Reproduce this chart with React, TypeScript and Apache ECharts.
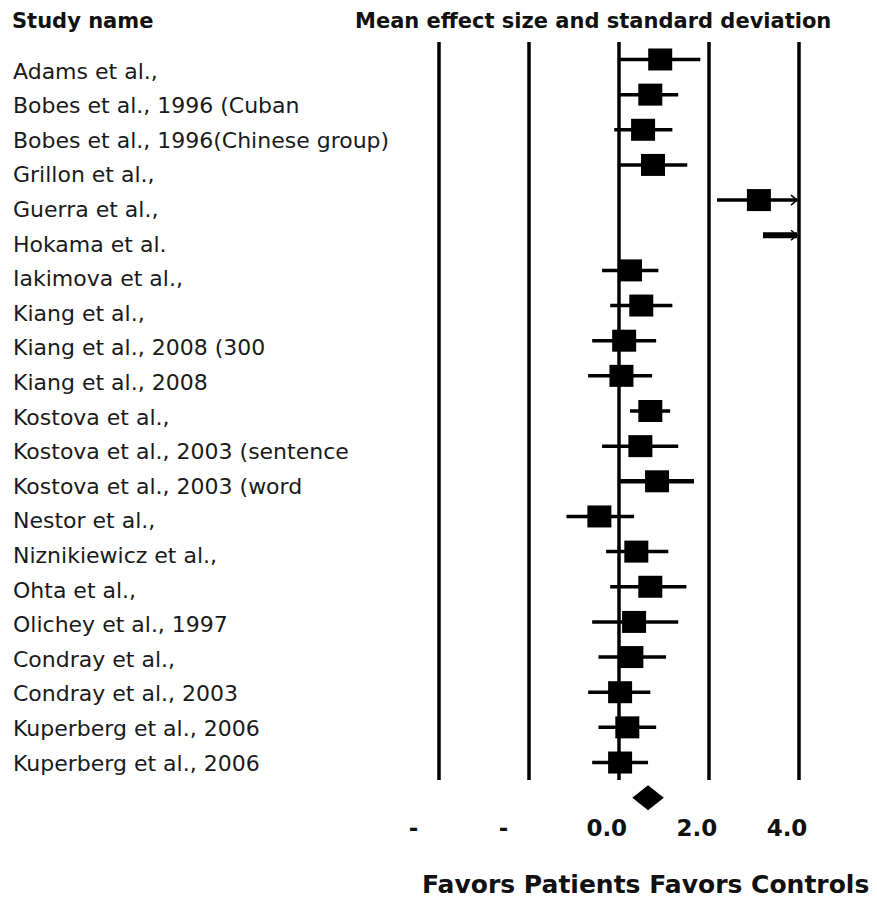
import React, { useEffect, useRef } from "react";
import * as echarts from "echarts";

const studies = [
  "Adams et al.,",
  "Bobes et al., 1996 (Cuban",
  "Bobes et al., 1996(Chinese group)",
  "Grillon et al.,",
  "Guerra et al.,",
  "Hokama et al.",
  "Iakimova et al.,",
  "Kiang et al.,",
  "Kiang et al., 2008 (300",
  "Kiang et al., 2008",
  "Kostova et al.,",
  "Kostova et al., 2003 (sentence",
  "Kostova et al., 2003 (word",
  "Nestor et al.,",
  "Niznikiewicz et al.,",
  "Ohta et al.,",
  "Olichey et al., 1997",
  "Condray et al.,",
  "Condray et al., 2003",
  "Kuperberg et al., 2006",
  "Kuperberg et al., 2006",
];

const effect = [0.92, 0.7, 0.54, 0.76, 3.11, 4.6, 0.25, 0.5, 0.12, 0.06, 0.7, 0.48, 0.85, -0.43, 0.39, 0.7, 0.34, 0.28, 0.03, 0.19, 0.03];
const lower = [0.02, 0.02, -0.1, 0.02, 2.18, 3.2, -0.37, -0.19, -0.59, -0.68, 0.25, -0.37, 0.02, -1.16, -0.28, -0.19, -0.59, -0.45, -0.68, -0.45, -0.59];
const upper = [1.81, 1.32, 1.19, 1.52, 4.6, 6.0, 0.88, 1.19, 0.83, 0.74, 1.14, 1.32, 1.67, 0.34, 1.1, 1.5, 1.32, 1.05, 0.7, 0.83, 0.65];

const summaryEffect = 0.65;
const summaryLower = 0.3;
const summaryUpper = 1.0;

const xMin = -4;
const xMax = 4;
const xInterval = 2;

const headerLeft = "Study name";
const headerRight = "Mean effect size and standard deviation";
const footer = "Favors Patients Favors Controls";

export default function App() {
  const ref = useRef<HTMLDivElement>(null);

  useEffect(() => {
    const chart = echarts.init(ref.current!, null, { renderer: "svg" });
    const font = "DejaVu Sans";

    const studyData = studies.map((_, i) => [i, effect[i], lower[i], upper[i]]);

    const option: any = {
      animation: false,
      backgroundColor: "#fff",
      title: [
        {
          text: headerLeft,
          left: 12,
          top: 10,
          padding: 0,
          textStyle: { fontFamily: font, fontWeight: "bold", fontSize: 21, color: "#111" },
        },
        {
          text: headerRight,
          left: 355,
          top: 10,
          padding: 0,
          textStyle: { fontFamily: font, fontWeight: "bold", fontSize: 21, color: "#111" },
        },
        {
          text: footer,
          left: 422,
          top: 872,
          padding: 0,
          textStyle: { fontFamily: font, fontWeight: "bold", fontSize: 25, color: "#111" },
        },
      ],
      grid: [
        { left: 438.5, right: 78, top: 41.9, height: 738.2, containLabel: false },
        { left: 5, width: 10, top: 53.7, height: 726.6, containLabel: false },
      ],
      xAxis: [
        {
          type: "value",
          gridIndex: 0,
          min: xMin,
          max: xMax,
          interval: xInterval,
          axisLine: { show: false },
          axisTick: { show: false },
          splitLine: { show: true, lineStyle: { color: "#000", width: 3.5 } },
          axisLabel: {
            show: true,
            margin: 36,
            showMinLabel: true,
            showMaxLabel: true,
            formatter: (v: number) => (v < 0 ? "{d|-}" : `{n|${v.toFixed(1)}}`),
            rich: {
              d: { fontFamily: font, fontWeight: "bold", fontSize: 23, color: "#111", padding: [0, 50, 0, 0] },
              n: { fontFamily: font, fontWeight: "bold", fontSize: 23, color: "#111", padding: [0, 24, 0, 0] },
            },
          },
        },
        { type: "value", gridIndex: 1, show: false, min: 0, max: 1 },
      ],
      yAxis: [
        {
          type: "value",
          gridIndex: 0,
          inverse: true,
          min: -0.5,
          max: 20.5,
          show: false,
        },
        {
          type: "category",
          gridIndex: 1,
          inverse: true,
          data: studies,
          axisLine: { show: false },
          axisTick: { show: false },
          splitLine: { show: false },
          axisLabel: {
            inside: true,
            margin: 8,
            align: "left",
            interval: 0,
            fontFamily: font,
            fontSize: 22,
            color: "#1a1a1a",
          },
        },
      ],
      series: [
        {
          type: "custom",
          xAxisIndex: 0,
          yAxisIndex: 0,
          clip: false,
          encode: { x: [1, 2, 3], y: 0 },
          data: studyData,
          renderItem: (params: any, api: any) => {
            const i = api.value(0);
            const est = api.value(1);
            const lo = api.value(2);
            const hi = api.value(3);
            const leftP = api.coord([Math.max(lo, xMin), i]);
            const rightP = api.coord([Math.min(hi, xMax), i]);
            const over = hi > xMax;
            const lw = params.dataIndex === 5 ? 6 : params.dataIndex === 12 ? 4.5 : 3.5;
            const children: any[] = [
              {
                type: "line",
                shape: { x1: leftP[0], y1: leftP[1], x2: rightP[0] - (over ? 2 : 0), y2: rightP[1] },
                style: { stroke: "#000", lineWidth: lw },
              },
            ];
            if (est <= xMax) {
              const c = api.coord([est, i]);
              children.push({
                type: "rect",
                shape: { x: c[0] - 12, y: c[1] - 11, width: 24, height: 22 },
                style: { fill: "#000" },
              });
            }
            if (over) {
              children.push({
                type: "polyline",
                shape: {
                  points: [
                    [rightP[0] - 8, rightP[1] - 5],
                    [rightP[0] - 2, rightP[1]],
                    [rightP[0] - 8, rightP[1] + 5],
                  ],
                },
                style: { stroke: "#000", fill: null, lineWidth: 1.5 },
              });
            }
            return { type: "group", children };
          },
        },
        {
          type: "custom",
          xAxisIndex: 0,
          yAxisIndex: 0,
          clip: false,
          encode: { x: [1, 2, 3], y: 0 },
          data: [[studies.length, summaryEffect, summaryLower, summaryUpper]],
          renderItem: (params: any, api: any) => {
            const i = api.value(0);
            const c = api.coord([api.value(1), i]);
            const l = api.coord([api.value(2), i]);
            const r = api.coord([api.value(3), i]);
            return {
              type: "polygon",
              shape: {
                points: [
                  [l[0], l[1]],
                  [c[0], c[1] - 12.5],
                  [r[0], r[1]],
                  [c[0], c[1] + 12.5],
                ],
              },
              style: { fill: "#000" },
            };
          },
        },
      ],
    };

    chart.setOption(option);
    return () => chart.dispose();
  }, []);

  return (
    <div
      ref={ref}
      style={{ position: "fixed", left: 0, top: 0, width: 877, height: 900, background: "#fff" }}
    />
  );
}
